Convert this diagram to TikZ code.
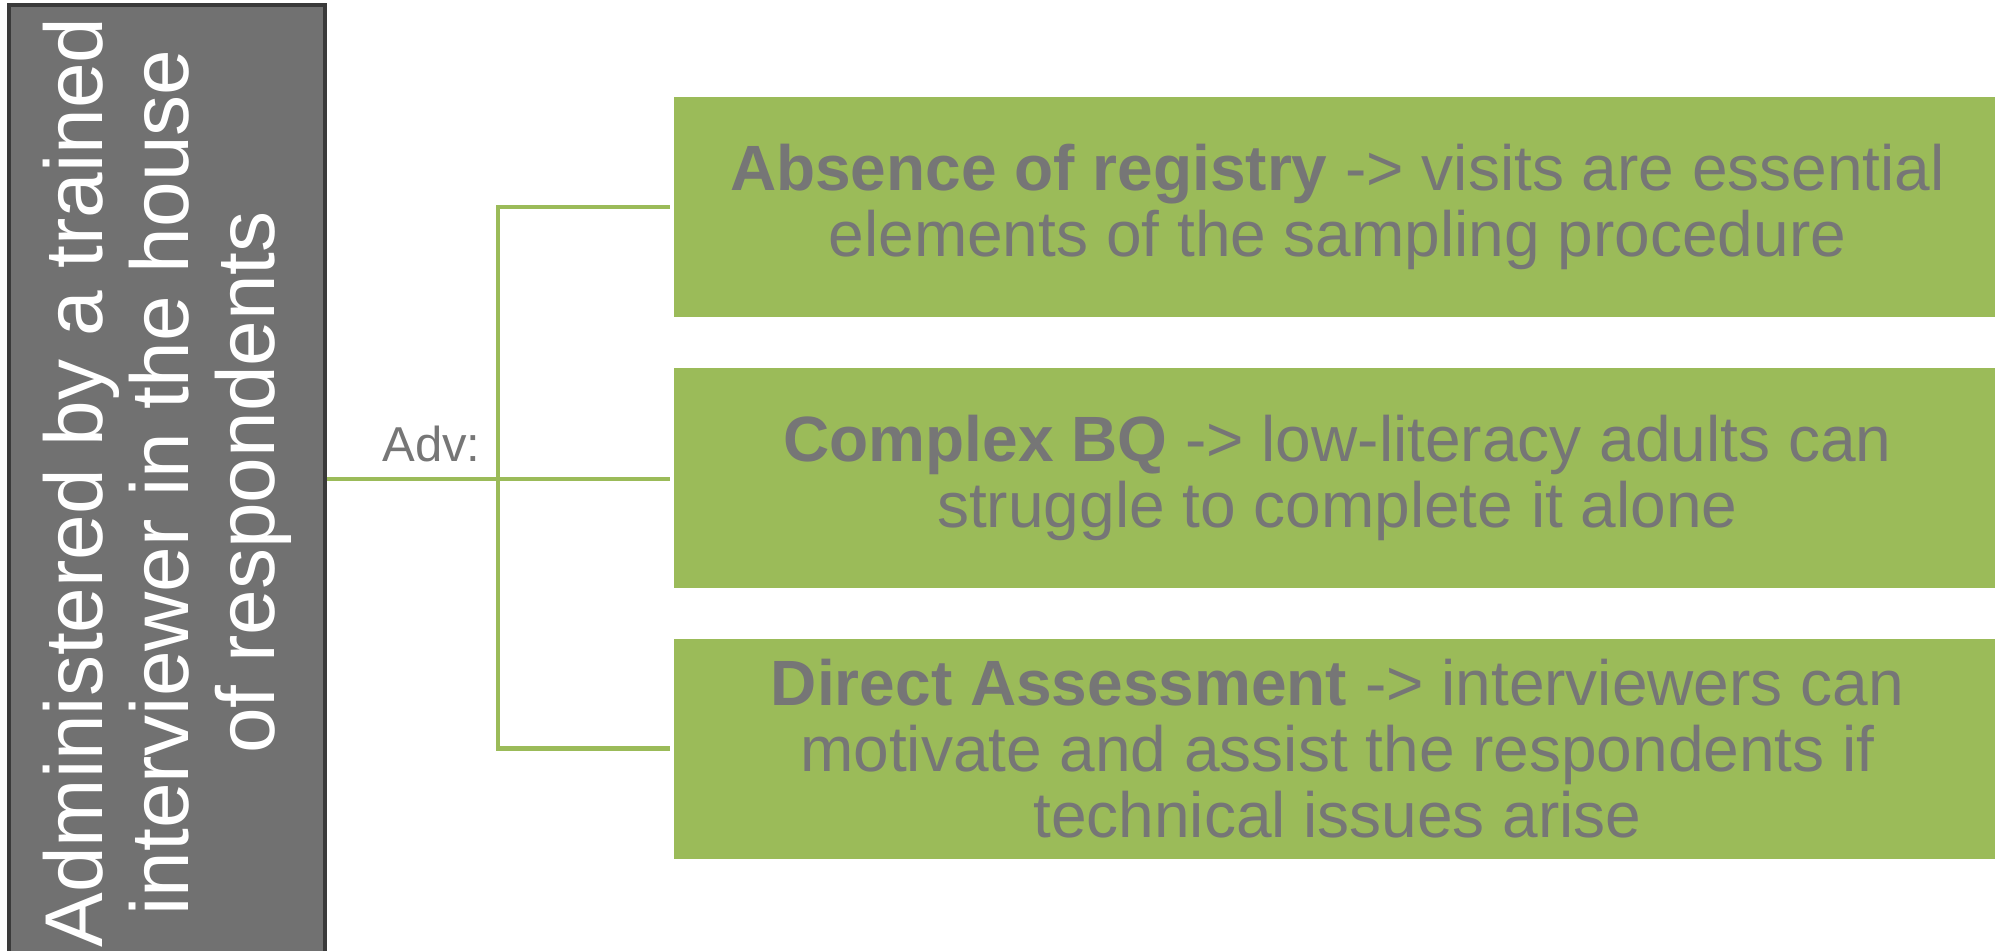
\documentclass[tikz,border=0pt]{standalone}
\usepackage{fontspec}
\setmainfont{Liberation Sans}
\usepackage{tikz}
\usetikzlibrary{positioning}
\definecolor{advgreen}{HTML}{9BBB59}
\definecolor{txtgray}{HTML}{767676}
\definecolor{boxgray}{HTML}{717171}
\definecolor{edgegray}{HTML}{3A3A3A}

\begin{document}
\begin{tikzpicture}[x=0.5pt, y=-0.5pt,
  method/.style={draw=edgegray, line width=2.2pt, fill=boxgray, text=white, rotate=90,
    minimum width=477.5pt, minimum height=158pt, inner sep=0pt, align=center,
    font=\fontsize{41}{43}\selectfont},
  advbox/.style={fill=advgreen, text=txtgray, minimum width=663pt, minimum height=110pt,
    inner sep=0pt, align=center, font=\fontsize{32}{33}\selectfont},
  link/.style={advgreen, line width=2.3pt},
]
\useasboundingbox (0,0) rectangle (1995,951);

\node (admin) [method] at (167,482.5) {Administered by a trained\\interviewer in the house\\of respondents};

\node (reg) [advbox, anchor=west] at (674,207)
  {\textbf{Absence of registry} -> visits are essential\\elements of the sampling procedure};
\node (bq) [advbox, below=25pt of reg]
  {\textbf{Complex BQ} -> low-literacy adults can\\struggle to complete it alone};
\node (da) [advbox, below=25pt of bq]
  {\textbf{Direct Assessment} -> interviewers can\\motivate and assist the respondents if\\technical issues arise};

\coordinate (hub) at (498,479);
\node (adv) [anchor=base east, text=txtgray, inner sep=0pt, font=\fontsize{24.5}{26}\selectfont] at (481,462) {Adv:};

\draw[link] (admin.south |- hub) -- (hub);
\draw[link, shorten >=2pt] (hub) |- (reg.west);
\draw[link, shorten >=2pt] (hub) -- (hub -| bq.west);
\draw[link, shorten >=2pt] (hub) |- (da.west);
\end{tikzpicture}
\end{document}
